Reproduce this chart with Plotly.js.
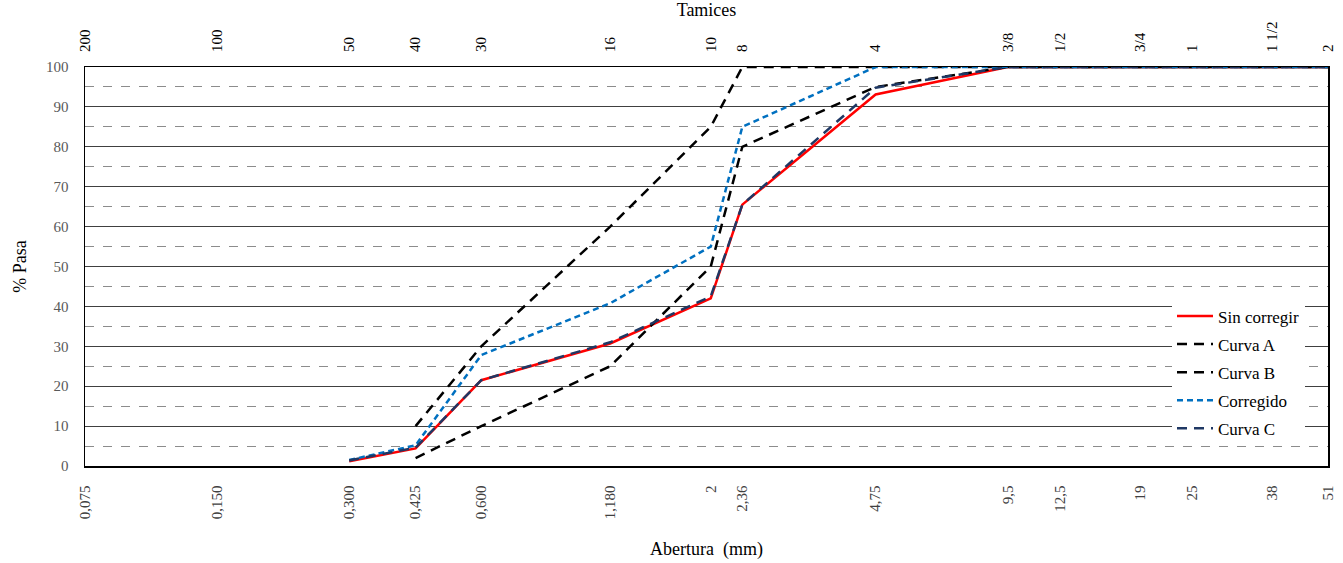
<!DOCTYPE html>
<html>
<head>
<meta charset="utf-8">
<script src="https://cdn.plot.ly/plotly-3.0.1.min.js"></script>
<style>html,body{margin:0;padding:0;background:#fff;}#chart{width:1343px;height:563px;}</style>
</head>
<body>
<div id="chart"></div>
<script>
// Abertura (mm) of the sieves where the curves are given
const abertura = [0.3, 0.425, 0.6, 1.18, 2, 2.36, 4.75, 9.5, 12.5, 19, 25, 38, 51];

// % Pasa per series
const sinCorregir = [1.2, 4.4, 21.5, 30.7, 42, 65.5, 93.1, 100, 100, 100, 100, 100, 100];
const curvaA      = [null, 10, 30, 60, 85, 100, 100, 100, 100, 100, 100, 100, 100];
const curvaB      = [null, 2, 10, 25, 50, 80, 95, 100, 100, 100, 100, 100, 100];
const corregido   = [1.5, 5.2, 27.8, 40.8, 55, 85, 100, 100, 100, 100, 100, 100, 100];
const curvaC      = [1.4, 4.6, 21.5, 31, 42.5, 65.5, 94.8, 100, 100, 100, 100, 100, 100];

// bottom axis ticks (mm)
const tickMM    = [0.075, 0.150, 0.300, 0.425, 0.600, 1.180, 2, 2.36, 4.75, 9.5, 12.5, 19, 25, 38, 51];
const tickMMtxt = ["0,075", "0,150", "0,300", "0,425", "0,600", "1,180", "2", "2,36", "4,75", "9,5", "12,5", "19", "25", "38", "51"];
// top axis ticks (sieve names)
const tamizTxt  = ["200", "100", "50", "40", "30", "16", "10", "8", "4", "3/8", "1/2", "3/4", "1", "1 1/2", "2"];

const FONT = "'Liberation Serif', 'Times New Roman', Times, 'DejaVu Serif', serif";

const traces = [
  {name: "Sin corregir", x: abertura, y: sinCorregir, mode: "lines", legendgroup: "a",
   line: {color: "#FF0000", width: 2.5}},
  {name: "Curva A", x: abertura, y: curvaA, mode: "lines", legendgroup: "b",
   line: {color: "#000000", width: 2.5, dash: "10px,7px"}},
  {name: "Curva B", x: abertura, y: curvaB, mode: "lines", legendgroup: "c",
   line: {color: "#000000", width: 2.5, dash: "10px,7px"}},
  {name: "Corregido", x: abertura, y: corregido, mode: "lines", legendgroup: "d",
   line: {color: "#0070C0", width: 2.5, dash: "6px,4px"}},
  {name: "Curva C", x: abertura, y: curvaC, mode: "lines", legendgroup: "e",
   line: {color: "#1F3864", width: 2.5, dash: "10px,7px"}},
  {x: tickMM, y: tickMM.map(() => null), xaxis: "x2", mode: "lines", showlegend: false,
   hoverinfo: "skip", line: {width: 0}}
];

const layout = {
  width: 1343, height: 563,
  margin: {l: 85, r: 15, t: 67, b: 97},
  paper_bgcolor: "#ffffff", plot_bgcolor: "#ffffff",
  font: {family: FONT, color: "#000"},
  showlegend: true,
  xaxis: {
    type: "log",
    range: [Math.log10(0.075), Math.log10(51)],
    tickmode: "array", tickvals: tickMM, ticktext: tickMMtxt,
    tickangle: -90, ticks: "", ticklabelstandoff: 12,
    tickfont: {family: FONT, size: 15, color: "#404040"},
    showgrid: false, zeroline: false,
    showline: true, linecolor: "#000", linewidth: 1.5, mirror: true,
    title: {text: "Abertura  (mm)", font: {family: FONT, size: 18, color: "#000"}, standoff: 24}
  },
  xaxis2: {
    type: "log", overlaying: "x", side: "top", anchor: "y",
    range: [Math.log10(0.075), Math.log10(51)],
    tickmode: "array", tickvals: tickMM, ticktext: tamizTxt,
    tickangle: -90, ticks: "", ticklabelstandoff: 14,
    tickfont: {family: FONT, size: 15, color: "#000"},
    showgrid: false, zeroline: false, showline: false,
    title: {text: "Tamices", font: {family: FONT, size: 18, color: "#000"}, standoff: 0}
  },
  yaxis: {
    range: [0, 100], dtick: 10, ticks: "", ticklabelstandoff: 12,
    tickfont: {family: FONT, size: 15, color: "#595959"},
    showgrid: true, gridcolor: "#404040", gridwidth: 1,
    minor: {dtick: 5, showgrid: true, gridcolor: "#8c8c8c", griddash: "dash", gridwidth: 1},
    zeroline: false,
    showline: true, linecolor: "#000", linewidth: 1.5, mirror: true,
    title: {text: "% Pasa", font: {family: FONT, size: 18, color: "#000"}, standoff: 14}
  },
  legend: {
    x: 0.8745, y: 0.42, xanchor: "left", yanchor: "top",
    bgcolor: "#ffffff", borderwidth: 0,
    font: {family: FONT, size: 17, color: "#000"},
    traceorder: "grouped", tracegroupgap: 3, itemwidth: 36
  }
};

Plotly.newPlot("chart", traces, layout, {displayModeBar: false, staticPlot: true});
</script>
</body>
</html>
